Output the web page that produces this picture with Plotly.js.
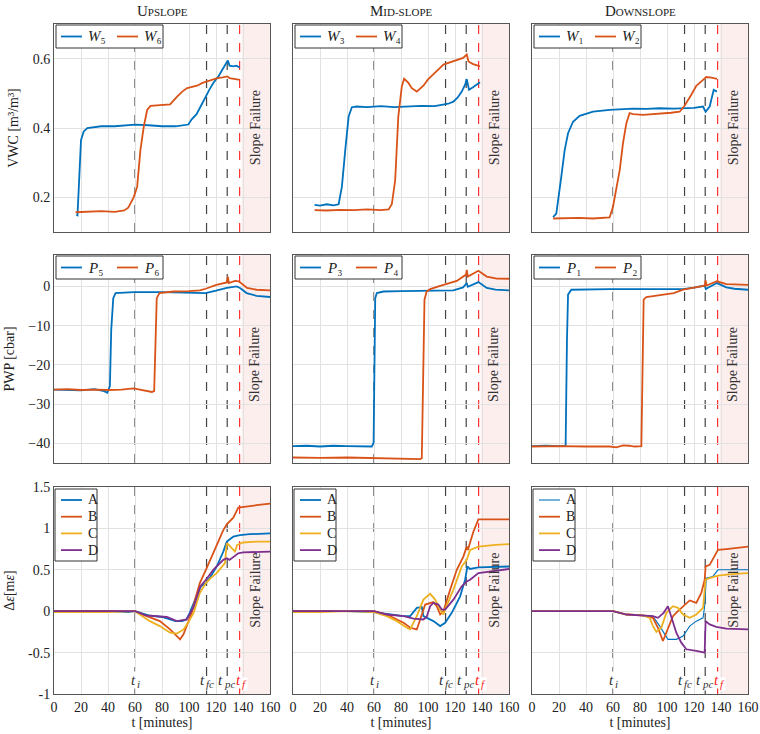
<!DOCTYPE html>
<html><head><meta charset="utf-8">
<script src="https://cdn.plot.ly/plotly-3.0.1.min.js"></script>
<style>body{margin:0;background:#fff}#plot{width:760px;height:734px}</style>
</head><body><div id="plot"></div>
<script>
// ---------------- DATA ----------------
const colTitles = ['U<span style="font-size:11px">PSLOPE</span>', 'M<span style="font-size:11px">ID-SLOPE</span>', 'D<span style="font-size:11px">OWNSLOPE</span>'];
const xTicks = [0,20,40,60,80,100,120,140,160];
const vwcTicks = [0.2,0.4,0.6];
const pwpTicks = [-40,-30,-20,-10,0];
const strainTicks = [-1,-0.5,0,0.5,1,1.5];
const strainTickText = ['-1','-0.5','0','0.5','1','1.5'];
// event times [minutes] and their labels (t + subscript)
const tI = 60, tFC = 113, tPC = 128.3, tF = 137.5, tShade = 139;
const eventSubs = ['i','fc','pc','f'];

// VWC upslope
const tW5 = [16.5,17.4,20,22,24.7,28,35,45,60,70,80,90,96,99.5,102,105.6,109,112,115,118,122,125,128,128.8,130,133,135,137.5];
const W5  = [0.15,0.148,0.365,0.39,0.40,0.402,0.405,0.405,0.41,0.408,0.405,0.405,0.408,0.41,0.425,0.44,0.465,0.49,0.51,0.53,0.55,0.57,0.587,0.595,0.58,0.578,0.58,0.575];
const tW6 = [16,25,35,45,52,55,57,59,61.6,64,66.5,69,71.5,75,80,86,91,95,98.6,102,106,110,113,117,121,125,128.3,130,134,137.7];
const W6  = [0.157,0.158,0.16,0.158,0.162,0.17,0.185,0.2,0.23,0.336,0.404,0.452,0.464,0.465,0.466,0.468,0.49,0.505,0.515,0.518,0.522,0.53,0.534,0.54,0.544,0.546,0.549,0.544,0.542,0.539];
// VWC mid-slope
const tW3 = [16,20,25,30,33.8,36.2,38.7,41.2,43.6,47,55,65,75,85,95,105,111.4,115,118.8,122,125,127.5,128.7,130.4,133.6,136,138.5];
const W3  = [0.178,0.176,0.18,0.177,0.18,0.23,0.336,0.433,0.46,0.462,0.46,0.463,0.46,0.462,0.464,0.463,0.467,0.47,0.476,0.488,0.505,0.525,0.541,0.51,0.518,0.525,0.532];
const tW4 = [16,25,35,45,55,65,70.8,73.2,75.7,78,80.6,82.3,85.5,88,91.7,96.6,100,104,108,111.4,115,118.8,122,126,128.7,130,133,135,138.5];
const W4  = [0.163,0.162,0.164,0.163,0.165,0.163,0.165,0.18,0.25,0.433,0.52,0.542,0.53,0.515,0.505,0.522,0.54,0.554,0.57,0.583,0.588,0.592,0.596,0.602,0.612,0.592,0.585,0.582,0.578];
// VWC downslope
const tW1 = [15.6,18,21.7,24.2,26.7,30.4,35.3,45.2,57.5,65,74.8,85,94.6,105,111.9,120,126.7,128.6,131.6,134.6,137];
const W1  = [0.143,0.153,0.26,0.336,0.385,0.418,0.435,0.447,0.452,0.454,0.456,0.455,0.457,0.456,0.457,0.458,0.462,0.447,0.462,0.51,0.505];
const tW2 = [15.6,25,35,45,57.5,60,62.5,65,67.4,69.9,72.3,74.8,82.2,90,97,103,109.4,113,118,121.7,126.7,129,133,137];
const W2  = [0.139,0.14,0.141,0.139,0.142,0.173,0.23,0.279,0.356,0.414,0.443,0.44,0.438,0.44,0.441,0.444,0.447,0.464,0.496,0.522,0.539,0.547,0.545,0.542];

// PWP upslope
const tP5 = [0,10,20,30,37.1,39.5,41.4,42.4,43.1,43.9,45.6,59,80,100,108,112.3,120,128,135.3,137.8,142.7,150,160];
const P5  = [-26.3,-26.4,-26.5,-26.2,-26.7,-27.1,-25.4,-11,-7.6,-3,-1.7,-1.45,-1.45,-1.5,-1.5,-1.7,-1.1,-0.4,0,-0.4,-1.7,-2.4,-2.7];
const tP6 = [0,10,20,30,40,50,59,65,68.8,72.5,74.2,75.2,76.1,78.1,88.4,100,108,112.3,120.3,128,128.8,129.5,134,136.9,143,150,160];
const P6  = [-26.3,-26.2,-26.4,-26.3,-26.4,-26.3,-26,-26.4,-26.5,-26.9,-26.7,-13.6,-3,-1.7,-1.3,-1.2,-1,-0.6,0.4,1,2.5,0.85,1.4,1.3,-0.4,-0.85,-1.0];
// PWP mid-slope
const tP3 = [0,10,20,30,40,50,58.4,59.7,60.4,60.9,62.1,67,80,99,118.8,126,128.7,129.5,133,137.3,143.5,150,160];
const P3  = [-40.7,-40.6,-40.8,-40.6,-40.7,-40.8,-40.8,-39.8,-13.6,-3,-1.7,-1.3,-1.2,-1.1,-1.0,-0.25,0.85,-0.1,0.4,1.1,-0.4,-0.8,-1.0];
const tP4 = [0,20,40,60,80,94.2,95.4,96.6,97.4,99,101.6,111.4,121.3,128.2,128.7,129.5,133,137.3,143.5,150.9,160];
const P4  = [-43.6,-43.7,-43.6,-43.7,-43.8,-44,-43.8,-22,-3.4,-1.3,-0.7,0.4,1.4,3,4.2,2.5,3.2,4.0,2.5,2.0,1.95];
// PWP downslope
const tP1 = [0,10,20,24.9,25.9,26.7,29.1,40,57.5,80,100,111.9,120,127.9,128.8,130,137,144,150,160];
const P1  = [-40.7,-40.6,-40.7,-40.7,-13.6,-2.1,-0.85,-0.75,-0.7,-0.7,-0.7,-0.7,-0.3,0.2,-0.7,-0.4,0.85,-0.25,-0.6,-0.85];
const tP2 = [0,20,40,57.5,62.5,67.4,72,76,81,81.7,82.7,84.7,97,105,111.9,120,127.9,128.6,129.3,137,144,150,160];
const P2  = [-40.8,-40.7,-40.8,-40.8,-41,-40.5,-40.6,-40.8,-40.7,-22,-3.4,-2.7,-2.1,-1.7,-0.85,-0.3,0.2,1.5,0.2,1.3,0.6,0.5,0.4];

// Strain upslope
const tUA = [0,20,40,55,60,70,80,90,95,98,100,104,108.8,112.5,116,120.5,125.4,128,130,132.8,137.7,145,160];
const UA  = [0,0,0,-0.01,0,-0.05,-0.07,-0.12,-0.12,-0.1,-0.04,0.12,0.3,0.34,0.42,0.54,0.72,0.84,0.87,0.9,0.92,0.93,0.94];
const tUB = [0,20,40,60,64,68.6,78.4,86,91,93.4,95.9,99,102,105,108,112.5,116,120.5,125.4,128,132.8,136.5,140,150,160];
const UB  = [0,0,0,0,-0.03,-0.06,-0.12,-0.22,-0.3,-0.34,-0.28,-0.15,-0.02,0.17,0.34,0.5,0.63,0.78,0.98,1.05,1.13,1.25,1.26,1.28,1.3];
const tUC = [0,20,40,60,65,71,78.4,86,91,96,100,103.4,108,112.5,116,120.5,126.6,128,129.5,132.8,134,135.7,140,150,160];
const UC  = [-0.01,-0.01,-0.01,0,-0.05,-0.12,-0.18,-0.26,-0.27,-0.22,-0.12,-0.02,0.22,0.34,0.4,0.46,0.58,0.82,0.8,0.74,0.72,0.8,0.83,0.84,0.84];
const tUD = [0,20,40,60,68,83.6,91,98.3,103.4,108.3,112.5,118,125.4,128,130,136.5,140,150,160];
const UD  = [0,0,0,0,-0.05,-0.07,-0.12,-0.1,0.05,0.3,0.38,0.5,0.62,0.64,0.62,0.7,0.71,0.715,0.72];
// Strain mid-slope
const tMA = [0,20,40,60,69.5,81.9,86.8,91.7,95.4,96.6,104,109,112.7,117.6,123.8,127.5,129.2,131,137.3,150,160];
const MA  = [0,0,0,-0.01,-0.03,-0.06,-0.06,0.04,0.05,-0.06,-0.12,-0.18,-0.14,-0.02,0.18,0.38,0.54,0.51,0.53,0.535,0.54];
const tMB = [0,20,40,60,69.5,81.9,86.8,91.7,94.2,97.9,104,106.5,109,111.4,116.4,121.3,126.2,128.7,129.5,133.6,137.3,150,160];
const MB  = [0,0,0,0,-0.04,-0.14,-0.2,-0.22,-0.1,0.08,0.11,0.06,-0.04,0,0.26,0.5,0.66,0.78,0.74,0.96,1.11,1.11,1.11];
const tMC = [0,20,40,60,69.5,77,84.3,86.8,91.7,96.6,101.6,105.3,109,111.4,112.7,118.8,125,128.7,131.2,137.3,150,160];
const MC  = [-0.01,-0.01,0,-0.01,-0.06,-0.12,-0.2,-0.22,-0.06,0.14,0.21,0.14,0.02,-0.04,0.02,0.26,0.54,0.62,0.74,0.78,0.8,0.81];
const tMD = [0,20,40,60,69.5,81.9,89.3,96.6,99,101.6,104,107.7,110.2,112.7,118.8,125,128.7,131.2,137.3,150,160];
const MD  = [0,0,0,0,-0.04,-0.06,-0.09,-0.1,-0.07,0.06,0.1,0.08,0.02,0.02,0.14,0.3,0.36,0.38,0.46,0.49,0.51];
// Strain downslope
const tDA = [0,20,40,60,69.9,82.2,89.6,94.6,100.7,106.9,111.9,116.8,121.7,126.7,127.9,129.1,134,137.8,150,160];
const DA  = [0,0,0,0,-0.04,-0.05,-0.06,-0.18,-0.34,-0.34,-0.3,-0.18,-0.12,-0.08,0.06,0.4,0.42,0.5,0.5,0.5];
const tDB = [0,20,40,60,70,82.2,89.6,93.3,97,99.5,104.4,108.1,111.9,116.8,121.7,125.4,127.9,128.6,131.6,135.3,137.8,144,160];
const DB  = [0,0,0,0,-0.04,-0.05,-0.08,-0.2,-0.36,-0.26,-0.06,0,0.06,0.13,0.1,0.22,0.38,0.54,0.56,0.66,0.74,0.75,0.78];
const tDC = [0,20,40,60,70,82.2,87.2,89.6,92.1,95.8,99.5,104.4,108.1,111.9,116.8,121.7,126.7,128.6,131.6,137.8,150,160];
const DC  = [0,0,0,0,-0.04,-0.05,-0.08,-0.18,-0.25,-0.2,-0.02,0.06,0.04,-0.04,-0.08,-0.04,0.04,0.38,0.4,0.43,0.45,0.46];
const tDD = [0,20,40,60,70,82.2,89.6,93.3,97.5,100.7,103.2,106.9,110.6,114.3,121.7,127.9,128.6,131.6,136.5,144,160];
const DD  = [0,0,0,0,-0.04,-0.05,-0.06,-0.08,-0.02,0.06,-0.06,-0.26,-0.38,-0.46,-0.48,-0.5,-0.12,-0.16,-0.19,-0.21,-0.22];

// ---------------- LAYOUT / STYLE ----------------
const W = 760, H = 734;
const colPx = [[54,270],[293,509],[532,748]];
const rowPx = [[24,232],[255,463],[487,694]];
const fx = p => p / W, fy = p => 1 - p / H;
const COL = {blue:'#0072BD', orange:'#D95319', yellow:'#EDB120', purple:'#7E2F8E'};
const FONT = '"Liberation Serif", "Times New Roman", serif';
const SUB = {'1':'\u2081','2':'\u2082','3':'\u2083','4':'\u2084','5':'\u2085','6':'\u2086'};

const panels = [
  {r:0,c:0,s:[[tW5,W5,'blue','<i>W</i>'+SUB[5]],[tW6,W6,'orange','<i>W</i>'+SUB[6]]]},
  {r:0,c:1,s:[[tW3,W3,'blue','<i>W</i>'+SUB[3]],[tW4,W4,'orange','<i>W</i>'+SUB[4]]]},
  {r:0,c:2,s:[[tW1,W1,'blue','<i>W</i>'+SUB[1]],[tW2,W2,'orange','<i>W</i>'+SUB[2]]]},
  {r:1,c:0,s:[[tP5,P5,'blue','<i>P</i>'+SUB[5]],[tP6,P6,'orange','<i>P</i>'+SUB[6]]]},
  {r:1,c:1,s:[[tP3,P3,'blue','<i>P</i>'+SUB[3]],[tP4,P4,'orange','<i>P</i>'+SUB[4]]]},
  {r:1,c:2,s:[[tP1,P1,'blue','<i>P</i>'+SUB[1]],[tP2,P2,'orange','<i>P</i>'+SUB[2]]]},
  {r:2,c:0,s:[[tUA,UA,'blue','A'],[tUB,UB,'orange','B'],[tUC,UC,'yellow','C'],[tUD,UD,'purple','D']]},
  {r:2,c:1,s:[[tMA,MA,'blue','A'],[tMB,MB,'orange','B'],[tMC,MC,'yellow','C'],[tMD,MD,'purple','D']]},
  {r:2,c:2,s:[[tDA,DA,'blue','A',1.1],[tDB,DB,'orange','B'],[tDC,DC,'yellow','C'],[tDD,DD,'purple','D']]},
];
const rowY = [
  {range:[0.1,0.7], tickvals:vwcTicks, ticktext:vwcTicks.map(String), title:'VWC [m\u00b3/m\u00b3]', sf:0.40},
  {range:[-45,8], tickvals:pwpTicks, ticktext:pwpTicks.map(v=>v<0?'\u2212'+Math.abs(v):String(v)), title:'PWP [cbar]', sf:-20},
  {range:[-1,1.5], tickvals:strainTicks, ticktext:strainTickText, title:'\u0394<i>\u03b5</i>[m<i>\u03b5</i>]', sf:0.25},
];

const traces = [], shapes = [], annotations = [];
const layout = {
  width: W, height: H, margin:{l:0,r:0,t:0,b:0}, showlegend:false,
  paper_bgcolor:'#fff', plot_bgcolor:'#fff',
  font:{family:FONT, size:14, color:'#222'},
};

panels.forEach((p, i) => {
  const n = i + 1, sx = n === 1 ? '' : n;
  const xa = 'x' + sx, ya = 'y' + sx;
  const lw = s => s[4] || 1.8;
  p.s.forEach(s => traces.push({
    x: s[0], y: s[1], type:'scatter', mode:'lines', name: s[3],
    xaxis: xa, yaxis: ya, line:{color: COL[s[2]], width: lw(s)},
  }));
  const ry = rowY[p.r];
  layout['xaxis' + sx] = {
    domain:[fx(colPx[p.c][0]), fx(colPx[p.c][1])], anchor: ya, range:[0,160],
    tickvals: xTicks, showticklabels: p.r === 2, showgrid:true, gridcolor:'#e2e2e2', gridwidth:1,
    zeroline:false, showline:true, mirror:true, linecolor:'#555', linewidth:1, ticks:'',
    tickfont:{size:14, color:'#222', family:FONT},
    title: p.r === 2 ? {text:'t [minutes]', font:{size:14, family:FONT}, standoff:2} : undefined,
  };
  layout['yaxis' + sx] = {
    domain:[fy(rowPx[p.r][1]), fy(rowPx[p.r][0])], anchor: xa, range: ry.range,
    tickvals: ry.tickvals, ticktext: ry.ticktext, showticklabels: p.c === 0,
    showgrid:true, gridcolor:'#e2e2e2', gridwidth:1, zeroline:false, showline:true, mirror:true,
    linecolor:'#555', linewidth:1, ticks:'', tickfont:{size:14, color:'#222', family:FONT},
    title: p.c === 0 ? {text: ry.title, font:{size:14, family:FONT}, standoff:10} : undefined,
  };
  // failure shading & event lines
  shapes.push({type:'rect', xref:xa, yref:ya+' domain', x0:tShade, x1:160, y0:0, y1:1,
    fillcolor:'#fdeeee', line:{width:0}, layer:'below'});
  [tI, tFC, tPC].forEach(t => shapes.push({type:'line', xref:xa, yref:ya+' domain', x0:t, x1:t, y0:0, y1:1,
    line:{color:'#444', width:1.2, dash:'dash'}, layer:'below'}));
  shapes.push({type:'line', xref:xa, yref:ya+' domain', x0:tF, x1:tF, y0:0, y1:1,
    line:{color:'#ff3030', width:1.2, dash:'dash'}, layer:'below'});
  annotations.push({xref:xa, yref:ya, x:149, y:ry.sf, text:'Slope Failure', textangle:-90,
    showarrow:false, font:{size:14, color:'#333', family:FONT}});
  if (p.r === 2) {
    const yl = -0.83;
    const subW = {'i':3, 'fc':8, 'pc':9, 'f':4};
    const nudge = [0, -0.4, -1.8, 1.0]; // keep the tightly packed labels from overlapping
    [[tI,'#333'],[tFC,'#333'],[tPC,'#333'],[tF,'#ff2020']].forEach((a, k) => {
      const sub = eventSubs[k], shift = (5 - subW[sub]) / 2 + nudge[k] * 1.35;
      annotations.push({xref:xa, yref:ya, x:a[0], y:yl, text:'<i>t</i>', showarrow:false,
        xanchor:'right', xshift:shift + 1, bgcolor:'#fff', borderpad:0, font:{size:15, color:a[1], family:FONT}});
      annotations.push({xref:xa, yref:ya, x:a[0], y:yl, text:'<i>' + sub + '</i>', showarrow:false,
        xanchor:'left', xshift:shift, yshift:-4, bgcolor:'#fff', borderpad:0, font:{size:11, color:a[1], family:FONT}});
    });
  }
  // legend box (drawn in paper coordinates)
  const L = colPx[p.c][0], T = rowPx[p.r][0];
  if (p.r < 2) {
    shapes.push({type:'rect', xref:'paper', yref:'paper', x0:fx(L+2), x1:fx(L+109), y0:fy(T+24), y1:fy(T+1),
      fillcolor:'#fff', line:{color:'#333', width:1}, layer:'above'});
    p.s.forEach((s, k) => {
      const x0 = L + (k === 0 ? 7 : 63), y = T + 12.5;
      shapes.push({type:'line', xref:'paper', yref:'paper', x0:fx(x0), x1:fx(x0+21), y0:fy(y), y1:fy(y),
        line:{color:COL[s[2]], width:lw(s)}, layer:'above'});
      annotations.push({xref:'paper', yref:'paper', x:fx(x0+25), y:fy(y), xanchor:'left', yanchor:'middle',
        text:s[3], showarrow:false, font:{size:15, color:'#222', family:FONT}});
    });
  } else {
    shapes.push({type:'rect', xref:'paper', yref:'paper', x0:fx(L+1), x1:fx(L+43), y0:fy(T+74), y1:fy(T+2),
      fillcolor:'#fff', line:{color:'#333', width:1}, layer:'above'});
    p.s.forEach((s, k) => {
      const y = T + 13 + k * 16.7;
      shapes.push({type:'line', xref:'paper', yref:'paper', x0:fx(L+7), x1:fx(L+28), y0:fy(y), y1:fy(y),
        line:{color:COL[s[2]], width:lw(s)}, layer:'above'});
      annotations.push({xref:'paper', yref:'paper', x:fx(L+32), y:fy(y), xanchor:'left', yanchor:'middle',
        text:s[3], showarrow:false, font:{size:14, color:'#222', family:FONT}});
    });
  }
});
colTitles.forEach((t, c) => annotations.push({xref:'paper', yref:'paper',
  x: fx((colPx[c][0] + colPx[c][1]) / 2), y: fy(11), text: t, showarrow:false,
  xanchor:'center', yanchor:'middle', font:{size:15, color:'#222', family:FONT}}));
layout.shapes = shapes;
layout.annotations = annotations;

Plotly.newPlot('plot', traces, layout, {displayModeBar:false});
</script></body></html>
